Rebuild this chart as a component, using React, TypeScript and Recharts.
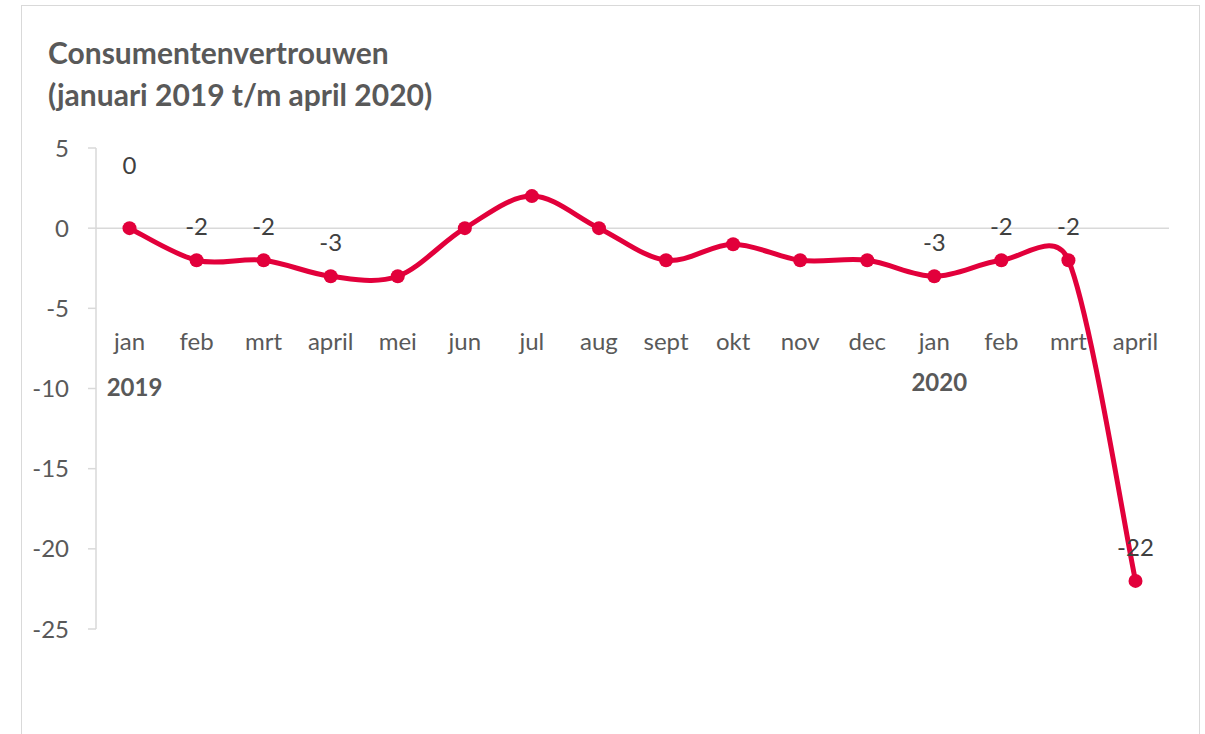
import React from 'react';
import { LineChart, Line, XAxis, YAxis, ReferenceLine, LabelList } from 'recharts';

const MONTHS = ['jan', 'feb', 'mrt', 'april', 'mei', 'jun', 'jul', 'aug', 'sept', 'okt', 'nov', 'dec', 'jan', 'feb', 'mrt', 'april'];
const YEARS = ['2019', '', '', '', '', '', '', '', '', '', '', '', '2020', '', '', ''];
const VALUES = [0, -2, -2, -3, -3, 0, 2, 0, -2, -1, -2, -2, -3, -2, -2, -22];
const SHOW_LABEL = [true, true, true, true, false, false, false, false, false, false, false, false, true, true, true, true];
const Y_TICKS = [5, 0, -5, -10, -15, -20, -25];

const FONT = 'Lato, "Open Sans", sans-serif';
const RED = '#e2003b';
const GRID = '#d9d9d9';

const rows = VALUES.map((value, i) => ({
  key: String(i),
  value,
  label: SHOW_LABEL[i] ? String(value) : '',
}));

// Excel-like smoothing: Catmull-Rom tangents, clamped to half the adjacent segment
const smoothCurve = (context: any) => {
  let pts: [number, number][] = [];
  const ctrl = (prev: number[], cur: number[], next: number[], seg: number[], sign: number) => {
    let dx = (next[0] - prev[0]) / 6;
    let dy = (next[1] - prev[1]) / 6;
    const len = Math.hypot(dx, dy);
    const max = 0.5 * Math.hypot(seg[0] - cur[0], seg[1] - cur[1]);
    if (len > max && len > 0) {
      dx *= max / len;
      dy *= max / len;
    }
    return [cur[0] + sign * dx, cur[1] + sign * dy];
  };
  return {
    areaStart() {},
    areaEnd() {},
    lineStart() {
      pts = [];
    },
    lineEnd() {
      const n = pts.length;
      if (!n) return;
      context.moveTo(pts[0][0], pts[0][1]);
      for (let i = 0; i < n - 1; i++) {
        const p0 = pts[Math.max(i - 1, 0)];
        const p1 = pts[i];
        const p2 = pts[i + 1];
        const p3 = pts[Math.min(i + 2, n - 1)];
        const c1 = ctrl(p0, p1, p2, p2, 1);
        const c2 = ctrl(p1, p2, p3, p1, -1);
        context.bezierCurveTo(c1[0], c1[1], c2[0], c2[1], p2[0], p2[1]);
      }
    },
    point(x: number, y: number) {
      pts.push([+x, +y]);
    },
  };
};

function MonthTick({ x, y, payload }: any) {
  const i = Number(payload.value);
  return (
    <g>
      <text x={x} y={y - 279} textAnchor="middle" fill="#595959" fontSize={24} fontFamily={FONT}>
        {MONTHS[i]}
      </text>
      {YEARS[i] ? (
        <text
          x={x + 5}
          y={y - (i === 0 ? 233 : 238)}
          textAnchor="middle"
          fill="#595959"
          fontSize={24}
          fontWeight={700}
          fontFamily={FONT}
        >
          {YEARS[i]}
        </text>
      ) : null}
    </g>
  );
}

function PointLabel({ x, y, value, index }: any) {
  if (!value) return null;
  const lift = index === 0 ? 54 : 25;
  return (
    <text x={x} y={y - lift} textAnchor="middle" fill="#404040" fontSize={24} fontFamily={FONT}>
      {value}
    </text>
  );
}

export default function App() {
  return (
    <div style={{ position: 'absolute', left: 0, top: 0, width: 1205, height: 734, overflow: 'hidden', background: '#fff' }}>
      <div
        style={{
          position: 'absolute',
          left: 21,
          top: 5,
          width: 1179,
          height: 760,
          border: `1.5px solid ${GRID}`,
          boxSizing: 'border-box',
        }}
      />
      <div
        style={{
          position: 'absolute',
          left: 48,
          top: 31,
          fontFamily: FONT,
          fontWeight: 700,
          fontSize: 30,
          lineHeight: '42px',
          color: '#595959',
        }}
      >
        Consumentenvertrouwen
        <br />
        (januari 2019 t/m april 2020)
      </div>
      <div style={{ position: 'absolute', left: 0, top: 0 }}>
        <LineChart width={1205} height={734} data={rows} margin={{ top: 148, right: 36, bottom: 0, left: 0 }}>
          <XAxis
            dataKey="key"
            height={105}
            axisLine={false}
            tickLine={false}
            tickSize={0}
            tickMargin={0}
            interval={0}
            padding={{ left: 33.5, right: 33.5 }}
            tick={<MonthTick />}
          />
          <YAxis
            width={96}
            domain={[-25, 5]}
            ticks={Y_TICKS}
            interval={0}
            axisLine={{ stroke: GRID, strokeWidth: 1.5 }}
            tickLine={{ stroke: GRID, strokeWidth: 1.5 }}
            tickSize={8}
            tickMargin={19}
            tick={{ fill: '#595959', fontSize: 24, fontFamily: FONT }}
          />
          <ReferenceLine y={0} stroke={GRID} strokeWidth={1.5} />
          <Line
            dataKey="value"
            type={smoothCurve as any}
            stroke={RED}
            strokeWidth={5}
            dot={{ r: 7, fill: RED, stroke: RED, strokeWidth: 0 }}
            activeDot={false}
            isAnimationActive={false}
          >
            <LabelList dataKey="label" content={<PointLabel />} />
          </Line>
        </LineChart>
      </div>
    </div>
  );
}
